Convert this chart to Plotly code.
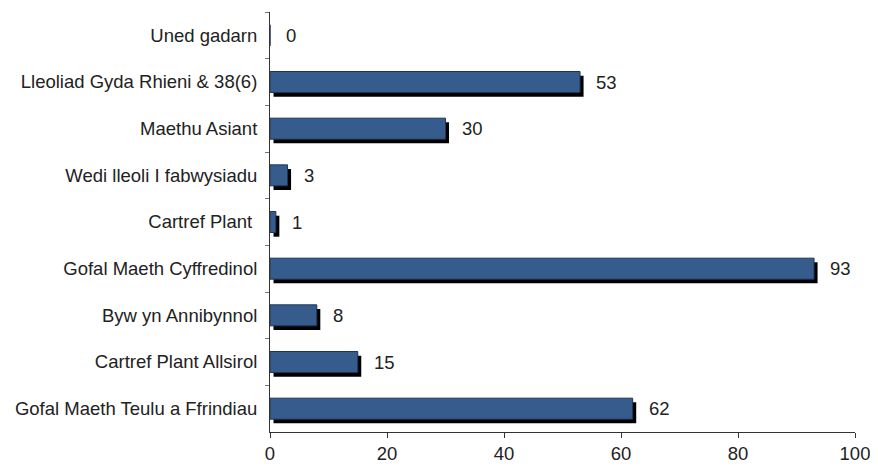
import plotly.graph_objects as go

categories = [
    "Uned gadarn",
    "Lleoliad Gyda Rhieni & 38(6)",
    "Maethu Asiant",
    "Wedi lleoli I fabwysiadu",
    "Cartref Plant ",
    "Gofal Maeth Cyffredinol",
    "Byw yn Annibynnol",
    "Cartref Plant Allsirol",
    "Gofal Maeth Teulu a Ffrindiau",
]
values = [0, 53, 30, 3, 1, 93, 8, 15, 62]
x_ticks = [0, 20, 40, 60, 80, 100]

FONT = "Liberation Sans, Arial, sans-serif"
FS = 18.5
BLUE = "#365C8D"
n = len(categories)
dx = 0.6    # shadow offset in axis units (x)
dy = 0.09   # shadow offset in category units (y)

fig = go.Figure()
# shadow (drawn first, on hidden base axes with shifted ranges)
fig.add_trace(go.Bar(
    x=values, y=categories, orientation="h", width=0.45,
    marker=dict(color="#000000", line=dict(width=0)),
    xaxis="x", yaxis="y", hoverinfo="skip", showlegend=False,
))
# main blue bars
fig.add_trace(go.Bar(
    x=values, y=categories, orientation="h", width=0.45,
    marker=dict(color=BLUE, line=dict(color="#1E3554", width=1)),
    xaxis="x2", yaxis="y2", showlegend=False,
))

annotations = [
    dict(x=v, y=c, xref="x2", yref="y2", text=str(v), showarrow=False,
         xanchor="left", xshift=14, font=dict(family=FONT, size=FS, color="#222222"))
    for c, v in zip(categories, values)
]

fig.update_layout(
    width=870, height=460,
    margin=dict(l=262, r=23, t=4, b=36),
    paper_bgcolor="white", plot_bgcolor="white",
    barmode="overlay",
    font=dict(family=FONT, size=FS, color="#222222"),
    xaxis=dict(range=[-dx, 100 - dx], visible=False, fixedrange=True, automargin=False),
    yaxis=dict(type="category", categoryorder="array", categoryarray=categories,
               range=[n - 0.5 - dy, -0.5 - dy], visible=False, automargin=False),
    xaxis2=dict(overlaying="x", range=[0, 100], tickvals=x_ticks,
                showline=True, linecolor="#333333", linewidth=1,
                ticks="outside", ticklen=5, tickcolor="#333333",
                showgrid=False, zeroline=False, anchor="y2", side="bottom",
                automargin=False,
                tickfont=dict(family=FONT, size=FS, color="#222222")),
    yaxis2=dict(overlaying="y", type="category", categoryorder="array",
                categoryarray=categories, range=[n - 0.5, -0.5],
                showline=True, linecolor="#333333", linewidth=1,
                ticks="outside", ticklen=4, tickcolor="#777777", tickson="boundaries",
                showgrid=False, zeroline=False, anchor="x2", side="left",
                ticklabelstandoff=8, automargin=False,
                tickfont=dict(family=FONT, size=FS, color="#222222")),
    annotations=annotations,
)

fig.write_html("out.html")
